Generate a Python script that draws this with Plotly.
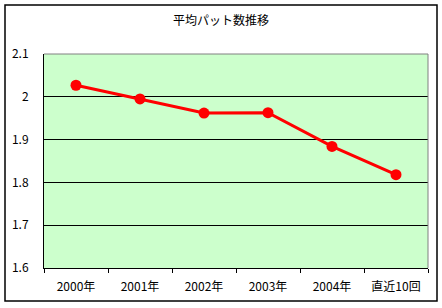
import plotly.graph_objects as go

categories = ["2000年", "2001年", "2002年", "2003年", "2004年", "直近10回"]
values = [2.027, 1.995, 1.962, 1.963, 1.884, 1.818]
title_text = "平均パット数推移"
y_ticks = [1.6, 1.7, 1.8, 1.9, 2.0, 2.1]
y_ticktext = ["1.6", "1.7", "1.8", "1.9", "2", "2.1"]

W, H = 442, 308
L, R, T, B = 44, 14, 54, 40
pw, ph = W - L - R, H - T - B

font = dict(family="Noto Sans CJK JP, sans-serif", size=12, color="black")

fig = go.Figure()
fig.add_trace(go.Scatter(
    x=categories, y=values, mode="lines+markers",
    line=dict(color="#FF0000", width=3),
    marker=dict(color="#FF0000", size=11),
    showlegend=False, cliponaxis=False,
))

fig.update_layout(
    width=W, height=H,
    margin=dict(l=L, r=R, t=T, b=B),
    paper_bgcolor="white",
    plot_bgcolor="#CCFFCC",
    font=font,
    title=dict(text=title_text, x=0.5, xanchor="center", y=1 - 21 / H, yanchor="middle",
               font=dict(size=12, color="black")),
    xaxis=dict(
        type="category", showline=True, linecolor="black", linewidth=1,
        ticks="outside", tickson="boundaries", ticklen=4, tickcolor="black",
        showgrid=False, tickfont=font, range=[-0.5, 5.5], ticklabelstandoff=8,
    ),
    yaxis=dict(
        range=[1.6, 2.1], tickvals=y_ticks, ticktext=y_ticktext,
        showline=True, linecolor="black", linewidth=1,
        showgrid=True, gridcolor="black", gridwidth=1,
        ticks="", ticklabelstandoff=12, tickfont=font, zeroline=False,
    ),
    shapes=[
        dict(type="line", xref="paper", yref="paper", x0=0, x1=1, y0=1, y1=1,
             line=dict(color="#808080", width=1)),
        dict(type="line", xref="paper", yref="paper", x0=1, x1=1, y0=0, y1=1,
             line=dict(color="#808080", width=1)),
        dict(type="rect", xref="paper", yref="paper",
             x0=(5 - L) / pw, x1=(437 - L) / pw,
             y0=(H - B - 301) / ph, y1=(H - B - 5) / ph,
             line=dict(color="black", width=1.5), fillcolor="rgba(0,0,0,0)", layer="below"),
    ],
)

fig.write_html("out.html")
